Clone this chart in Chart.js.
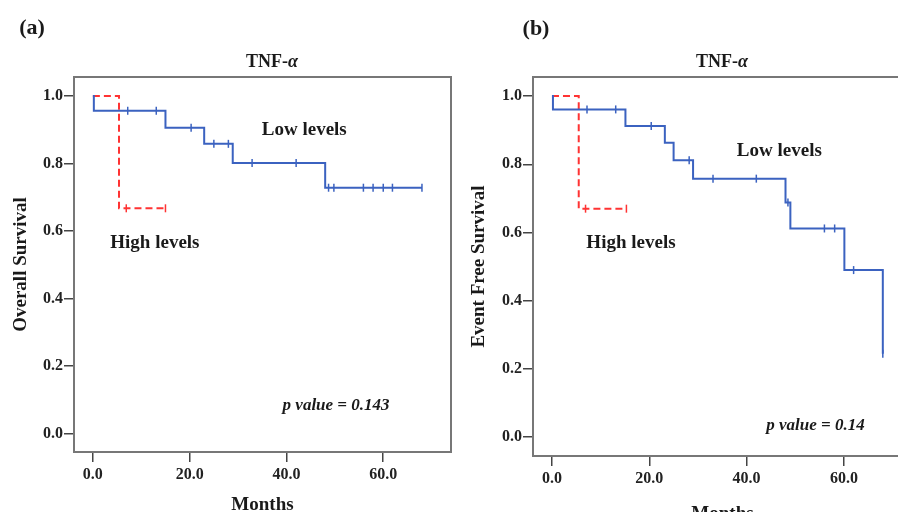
<!DOCTYPE html>
<html>
<head>
<meta charset="utf-8">
<script src="https://cdn.jsdelivr.net/npm/chart.js@4.4.1/dist/chart.umd.min.js"></script>
<style>
html, body { margin: 0; padding: 0; background: #fff; overflow: hidden; width: 898px; height: 512px; position: relative; }
#chartA { position: absolute; left: 0; top: 0; }
#chartB { position: absolute; left: 452px; top: 2px; }
</style>
</head>
<body>
<canvas id="chartA" width="452" height="512"></canvas>
<canvas id="chartB" width="470" height="520"></canvas>
<script>
// axis ticks
const monthTicks = [0, 20, 40, 60];
const survTicks = [0, 0.2, 0.4, 0.6, 0.8, 1.0];

// (a) Overall survival
const osLowTime = [0, 0.2, 15.0, 23.0, 28.9, 48.0, 68.0];
const osLowSurv = [1.0, 0.956, 0.906, 0.858, 0.801, 0.728, 0.728];
const osLowCensTime = [7.2, 13.1, 20.3, 25.0, 28.0, 32.9, 42.0, 48.7, 49.8, 55.9, 57.9, 60.0, 61.9, 68.0];
const osLowCensSurv = [0.956, 0.956, 0.906, 0.858, 0.858, 0.801, 0.801, 0.728, 0.728, 0.728, 0.728, 0.728, 0.728, 0.728];
const osHighTime = [0, 5.4, 15.0];
const osHighSurv = [1.0, 0.667, 0.667];
const osHighCensTime = [6.9, 15.0];
const osHighCensSurv = [0.667, 0.667];

// (b) Event free survival
const efsLowTime = [0, 0.2, 15.1, 23.2, 25.0, 29.0, 48.0, 49.0, 60.1, 68.0];
const efsLowSurv = [1.0, 0.961, 0.912, 0.863, 0.812, 0.758, 0.688, 0.612, 0.490, 0.245];
const efsLowCensTime = [7.2, 13.1, 20.4, 28.2, 33.1, 42.0, 48.5, 56.0, 58.1, 62.0, 68.0];
const efsLowCensSurv = [0.961, 0.961, 0.912, 0.812, 0.758, 0.758, 0.688, 0.612, 0.612, 0.490, 0.245];
const efsHighTime = [0, 5.5, 15.3];
const efsHighSurv = [1.0, 0.670, 0.670];
const efsHighCensTime = [6.9, 15.3];
const efsHighCensSurv = [0.670, 0.670];

const BLUE = '#3b62c0';
const RED = '#ff3333';
const SERIF = '"Liberation Serif", "Times New Roman", serif';

function toPts(t, s) {
    return t.map((x, i) => ({ x: x, y: s[i] }));
}

// draws the full frame around the plot area
const frameBox = {
    id: 'frameBox',
    beforeDatasetsDraw(chart) {
        const a = chart.chartArea;
        const ctx = chart.ctx;
        ctx.save();
        ctx.strokeStyle = '#777';
        ctx.lineWidth = 2;
        ctx.strokeRect(a.left, a.top, a.right - a.left, a.bottom - a.top);
        ctx.restore();
    }
};

// panel letter, title and text notes
const panelText = {
    id: 'panelText',
    afterDraw(chart, args, o) {
        const ctx = chart.ctx;
        ctx.save();
        ctx.fillStyle = '#1a1a1a';
        ctx.textBaseline = 'middle';

        ctx.font = 'bold 22px ' + SERIF;
        ctx.textAlign = 'center';
        ctx.fillText(o.letter, o.letterX, o.letterY);

        // title with italic alpha
        ctx.font = 'bold 18px ' + SERIF;
        const w1 = ctx.measureText('TNF-').width;
        ctx.font = 'bold italic 18px ' + SERIF;
        const w2 = ctx.measureText('α').width;
        let x0 = o.titleX - (w1 + w2) / 2;
        ctx.textAlign = 'left';
        ctx.font = 'bold 18px ' + SERIF;
        ctx.fillText('TNF-', x0, o.titleY);
        ctx.font = 'bold italic 18px ' + SERIF;
        ctx.fillText('α', x0 + w1, o.titleY);

        const xs = chart.scales.x, ys = chart.scales.y;
        o.notes.forEach(n => {
            ctx.font = (n.italic ? 'bold italic 17px ' : 'bold 19px ') + SERIF;
            ctx.fillText(n.text, xs.getPixelForValue(n.x), ys.getPixelForValue(n.y));
        });
        ctx.restore();
    }
};

function makePanel(id, p) {
    const ctx = document.getElementById(id).getContext('2d');
    return new Chart(ctx, {
        type: 'line',
        data: {
            datasets: [
                {
                    data: toPts(p.lowTime, p.lowSurv),
                    borderColor: BLUE,
                    borderWidth: 2,
                    stepped: 'before',
                    pointRadius: 0,
                    fill: false
                },
                {
                    data: toPts(p.lowCensTime, p.lowCensSurv),
                    showLine: false,
                    pointStyle: 'line',
                    rotation: 90,
                    pointRadius: 4,
                    borderColor: BLUE,
                    borderWidth: 1.5
                },
                {
                    data: toPts(p.highTime, p.highSurv),
                    borderColor: RED,
                    borderWidth: 2,
                    borderDash: [7, 4],
                    stepped: 'before',
                    pointRadius: 0,
                    fill: false
                },
                {
                    data: toPts(p.highCensTime, p.highCensSurv),
                    showLine: false,
                    pointStyle: 'line',
                    rotation: 90,
                    pointRadius: 4,
                    borderColor: RED,
                    borderWidth: 1.5
                }
            ]
        },
        options: {
            responsive: false,
            animation: false,
            events: [],
            layout: { padding: p.padding, autoPadding: false },
            plugins: {
                legend: { display: false },
                tooltip: { enabled: false },
                panelText: p.text
            },
            scales: {
                x: {
                    type: 'linear',
                    min: -3.9,
                    max: 74,
                    afterBuildTicks: s => { s.ticks = monthTicks.map(v => ({ value: v })); },
                    afterFit: s => { s.height = p.xHeight; s.paddingLeft = 0; s.paddingRight = 0; },
                    ticks: {
                        padding: 3,
                        color: '#222',
                        font: { family: SERIF, size: 16, weight: 'bold' },
                        callback: v => v.toFixed(1)
                    },
                    grid: { drawOnChartArea: false, tickLength: 10, color: '#444', lineWidth: 1.5 },
                    border: { color: '#555', width: 2 },
                    title: {
                        display: true,
                        text: 'Months',
                        color: '#1a1a1a',
                        font: { family: SERIF, size: 19, weight: 'bold', lineHeight: 0.68 },
                        padding: { top: 0, bottom: p.xTitlePad }
                    }
                },
                y: {
                    min: -0.055,
                    max: 1.056,
                    afterBuildTicks: s => { s.ticks = survTicks.map(v => ({ value: v })); },
                    afterFit: s => { s.width = p.yWidth; s.paddingTop = 0; s.paddingBottom = 0; },
                    ticks: {
                        padding: 1,
                        color: '#222',
                        font: { family: SERIF, size: 16, weight: 'bold' },
                        callback: v => v.toFixed(1)
                    },
                    grid: { drawOnChartArea: false, tickLength: 10, color: '#444', lineWidth: 1.5 },
                    border: { color: '#555', width: 2 },
                    title: {
                        display: true,
                        text: p.yTitle,
                        color: '#1a1a1a',
                        font: { family: SERIF, size: 19, weight: 'bold', lineHeight: 1 },
                        padding: { top: p.yTitlePad, bottom: 0 }
                    }
                }
            }
        },
        plugins: [frameBox, panelText]
    });
}

makePanel('chartA', {
    lowTime: osLowTime, lowSurv: osLowSurv,
    lowCensTime: osLowCensTime, lowCensSurv: osLowCensSurv,
    highTime: osHighTime, highSurv: osHighSurv,
    highCensTime: osHighCensTime, highCensSurv: osHighCensSurv,
    padding: { top: 77, right: 1, left: 0, bottom: 0 },
    xHeight: 60, yWidth: 74,
    xTitlePad: 0, yTitlePad: 12,
    yTitle: 'Overall Survival',
    text: {
        letter: '(a)', letterX: 32, letterY: 28,
        titleX: 272, titleY: 62,
        notes: [
            { text: 'Low levels', x: 34.9, y: 0.899 },
            { text: 'High levels', x: 3.6, y: 0.565 },
            { text: 'p value = 0.143', x: 39.2, y: 0.081, italic: true }
        ]
    }
});

makePanel('chartB', {
    lowTime: efsLowTime, lowSurv: efsLowSurv,
    lowCensTime: efsLowCensTime, lowCensSurv: efsLowCensSurv,
    highTime: efsHighTime, highSurv: efsHighSurv,
    highCensTime: efsHighCensTime, highCensSurv: efsHighCensSurv,
    padding: { top: 75, right: 10, left: 0, bottom: 0 },
    xHeight: 66, yWidth: 81,
    xTitlePad: 1, yTitlePad: 18,
    yTitle: 'Event Free Survival',
    text: {
        letter: '(b)', letterX: 84, letterY: 27,
        titleX: 270, titleY: 60,
        notes: [
            { text: 'Low levels', x: 38.0, y: 0.840 },
            { text: 'High levels', x: 7.07, y: 0.569 },
            { text: 'p value = 0.14', x: 44.05, y: 0.034, italic: true }
        ]
    }
});
</script>
</body>
</html>
